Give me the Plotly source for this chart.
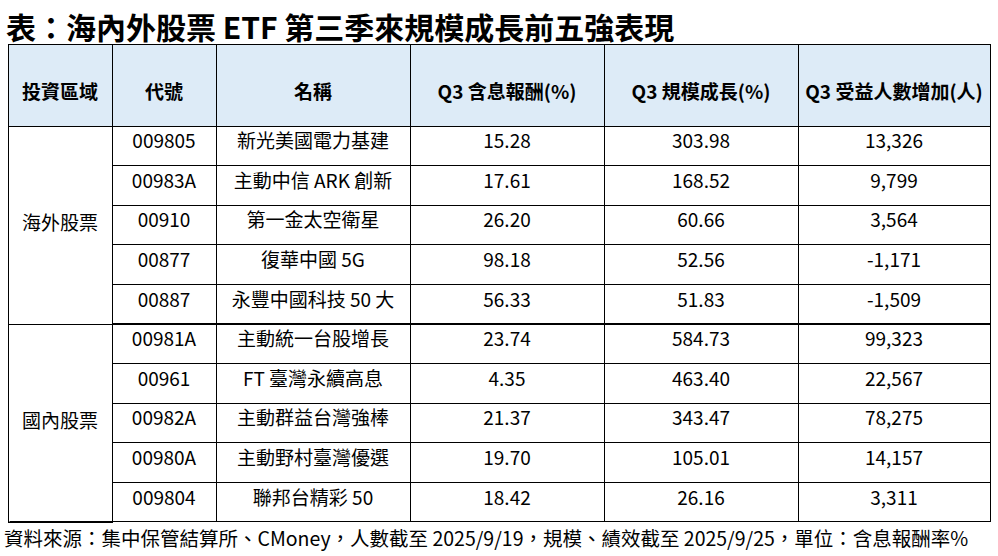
import plotly.graph_objects as go

title = "表：海內外股票 ETF 第三季來規模成長前五強表現"
note = "資料來源：集中保管結算所、CMoney，人數截至 2025/9/19，規模、績效截至 2025/9/25，單位：含息報酬率%"
headers = ["投資區域", "代號", "名稱", "Q3 含息報酬(%)", "Q3 規模成長(%)", "Q3 受益人數增加(人)"]
regions = ["海外股票", "國內股票"]
codes = ["009805", "00983A", "00910", "00877", "00887", "00981A", "00961", "00982A", "00980A", "009804"]
names = ["新光美國電力基建", "主動中信 ARK 創新", "第一金太空衛星", "復華中國 5G", "永豐中國科技 50 大",
         "主動統一台股增長", "FT 臺灣永續高息", "主動群益台灣強棒", "主動野村臺灣優選", "聯邦台精彩 50"]
ret = ["15.28", "17.61", "26.20", "98.18", "56.33", "23.74", "4.35", "21.37", "19.70", "18.42"]
growth = ["303.98", "168.52", "60.66", "52.56", "51.83", "584.73", "463.40", "343.47", "105.01", "26.16"]
holders = ["13,326", "9,799", "3,564", "-1,171", "-1,509", "99,323", "22,567", "78,275", "14,157", "3,311"]

W, H = 998, 556
FONT = "Microsoft JhengHei, Noto Sans CJK TC"
FS = 19
hdr_fill = "#DDEBF7"
top, bot = 44, 532
ytop = 1 - top / H
ybot = 1 - bot / H
x0, x1, x2 = 8, 112, 990
hdr_h = 82
row_h = 39.6
SP = "\u00a0<br>"

fig = go.Figure()
fig.add_trace(go.Table(
    domain=dict(x=[x0 / W, x1 / W], y=[ybot, ytop]),
    columnwidth=[1],
    header=dict(values=[SP + "<b>" + headers[0] + "</b>"], fill_color=hdr_fill, line=dict(color="black", width=1),
                font=dict(family=FONT, size=FS, color="black"), height=hdr_h, align="center"),
    cells=dict(values=[[SP * 3 + r for r in regions]], fill_color="white",
               line=dict(color="black", width=1),
               font=dict(family=FONT, size=FS, color="black"), height=row_h * 5, align="center"),
))
fig.add_trace(go.Table(
    domain=dict(x=[x1 / W, x2 / W], y=[ybot, ytop]),
    columnwidth=[104, 194, 194, 194, 192],
    header=dict(values=[SP + "<b>" + h + "</b>" for h in headers[1:]], fill_color=hdr_fill,
                line=dict(color="black", width=1),
                font=dict(family=FONT, size=FS, color="black"), height=hdr_h, align="center"),
    cells=dict(values=[codes, names, ret, growth, holders], fill_color="white",
               line=dict(color="black", width=1),
               font=dict(family=FONT, size=FS, color="black"), height=row_h, align="center"),
))
yb = 1 - (top + hdr_h + row_h * 10 - 0.5) / H
fig.add_annotation(text="", x=x2 / W, y=yb, xref="paper", yref="paper", showarrow=True,
                   ax=-(x2 - x0), ay=0, arrowhead=0, arrowwidth=1, arrowcolor="black",
                   standoff=0, startstandoff=0)
fig.add_annotation(text="<b>" + title + "</b>", x=4 / W, y=1 - 2 / H, xref="paper", yref="paper",
                   xanchor="left", yanchor="top", showarrow=False,
                   font=dict(family=FONT, size=30, color="black"))
fig.add_annotation(text=note, x=2 / W, y=1 - 554 / H, xref="paper", yref="paper",
                   xanchor="left", yanchor="bottom", showarrow=False,
                   font=dict(family=FONT, size=19.5, color="black"))
fig.update_layout(width=W, height=H, margin=dict(l=0, r=0, t=0, b=0),
                  paper_bgcolor="white", plot_bgcolor="white")
fig.write_html("out.html", config={"displayModeBar": False},
               post_script="document.body.style.margin='0';")
